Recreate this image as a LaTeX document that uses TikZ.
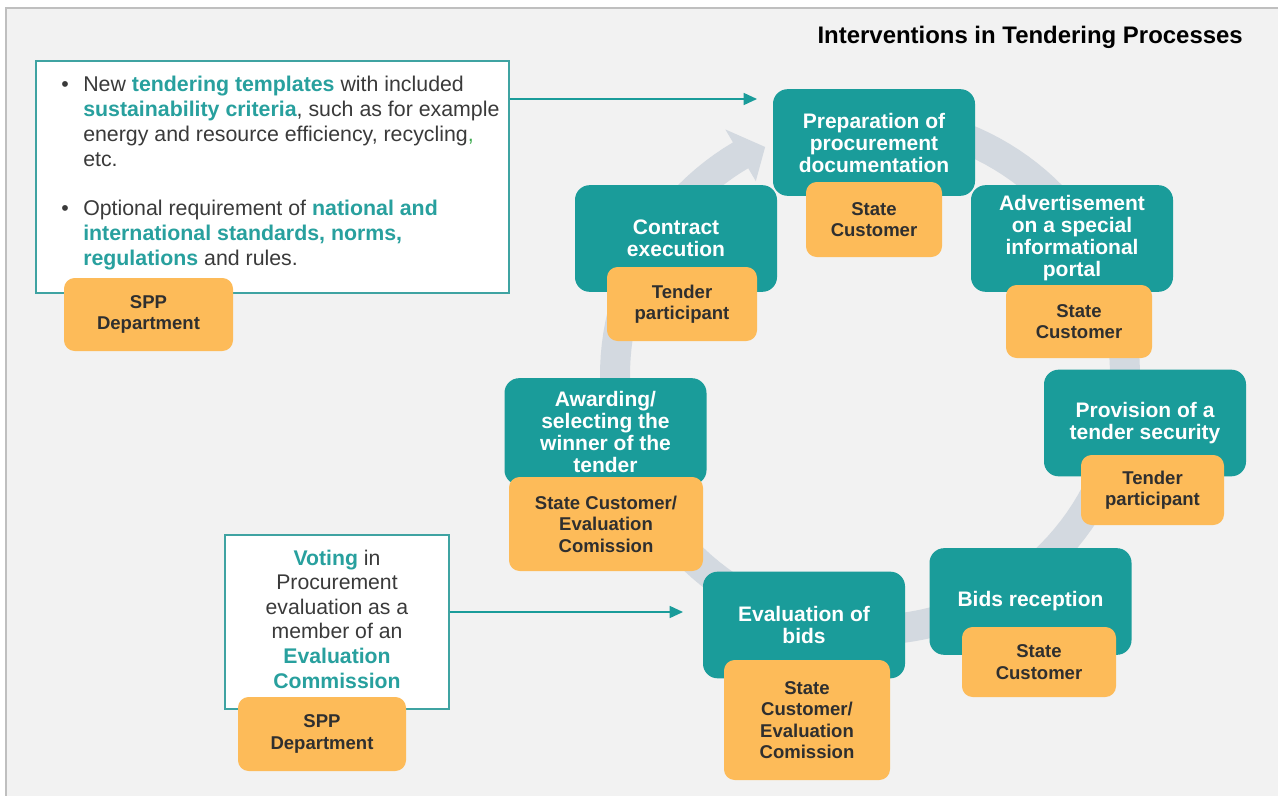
\documentclass[tikz,border=0pt]{standalone}
\usepackage{fontspec}
\setmainfont{Liberation Sans}
\usetikzlibrary{arrows.meta}
\definecolor{tealc}{HTML}{1A9C9A}
\definecolor{hlc}{HTML}{28A09E}
\definecolor{orangec}{HTML}{FDBB59}
\definecolor{darkc}{HTML}{2F2F2F}
\definecolor{bodyc}{HTML}{3A3A3A}
\definecolor{ringc}{HTML}{D3D9E0}
\definecolor{panelc}{HTML}{F2F2F2}
\definecolor{edgec}{HTML}{BFBFBF}
\definecolor{framec}{HTML}{3FA3A2}
\definecolor{commagreen}{HTML}{3DAA4F}
\newcommand{\tealhl}[1]{\textbf{\color{hlc}#1}}
\tikzset{
  tealbox/.style={fill=tealc, rounded corners=11pt, text=white, inner sep=0pt,
    font=\bfseries\fontsize{15.75}{16.5}\selectfont, align=center,
    minimum width=151.5pt, minimum height=80pt},
  orangebox/.style={fill=orangec, rounded corners=8pt, text=darkc, inner sep=0pt,
    font=\bfseries\fontsize{13.9}{16.1}\selectfont, align=center},
  whitebox/.style={fill=white, draw=framec, line width=1.1pt, inner sep=0pt},
  conn/.style={draw=tealc, line width=1.1pt, -{Triangle[length=10pt,width=9pt]}}
}
\begin{document}
\begin{tikzpicture}[x=0.75pt,y=-0.75pt]
\useasboundingbox (0,0) rectangle (1278,796);
\fill[white] (0,0) rectangle (1278,796);
\fill[panelc] (6,8) rectangle (1278,796);
\draw[edgec, line width=1.6pt] (6,796) -- (6,8) -- (1278,8);

% title
\node[anchor=east, inner sep=0pt, font=\bfseries\fontsize{17.95}{20}\selectfont] (title) at (1243,37) {Interventions in Tendering Processes};

% circular arrow
\fill[ringc] plot[domain=-95:239.5, samples=140] ({870+270*cos(\x)},{375+270*sin(\x)})
  -- ({870+285*cos(239.5)},{375+285*sin(239.5)})
  -- ({870+251*cos(245.3)},{375+251*sin(245.3)})
  -- ({870+225*cos(239.5)},{375+225*sin(239.5)})
  -- plot[domain=239.5:-95, samples=140] ({870+240*cos(\x)},{375+240*sin(\x)}) -- cycle;

% left text box
\node[whitebox, minimum width=354.75pt, minimum height=174pt] (box1) at (272.5,177) {};
\node[anchor=base west, inner sep=0pt, text=bodyc, font=\fontsize{16}{18.75}\selectfont] (box1txt) at (61,91) {%
\begin{tabular}[t]{@{}p{16.5pt}@{}l@{}}
\textbullet & New \tealhl{tendering templates} with included\\
 & \tealhl{sustainability criteria}, such as for example\\
 & energy and resource efficiency, recycling{\color{commagreen},}\\
 & etc.\\[18pt]
\textbullet & Optional requirement of \tealhl{national and}\\
 & \tealhl{international standards, norms,}\\
 & \tealhl{regulations} and rules.
\end{tabular}};
\node[orangebox, minimum width=126.75pt, minimum height=54.75pt] (spp1) at (148.5,314.5) {SPP\\Department};

\coordinate (a1tip) at (757,99);
\draw[conn] (box1.east |- a1tip) -- (a1tip);

% voting box
\node[whitebox, minimum width=168pt, minimum height=130.5pt] (vote) at (337,622) {};
\node[inner sep=0pt, text=bodyc, align=center, font=\fontsize{15.9}{18.45}\selectfont] (votetxt) at (337,619)
  {\tealhl{Voting} in\\Procurement\\evaluation as a\\member of an\\\tealhl{Evaluation}\\\tealhl{Commission}};
\node[orangebox, minimum width=126pt, minimum height=55.5pt] (spp2) at (322,734) {SPP\\Department};
\coordinate (a2tip) at (683,612);
\draw[conn] (vote.east |- a2tip) -- (a2tip);

% process steps
\node[tealbox] (prep) at (874,142.5) {Preparation of\\procurement\\documentation};
\node[orangebox, minimum width=102pt, minimum height=56.25pt] (prepw) at (874,219.5) {State\\Customer};

\node[tealbox] (adv) at (1072,238.5) {Advertisement\\on a special\\informational\\portal};
\node[orangebox, minimum width=109.5pt, minimum height=54.75pt] (advw) at (1079,321.5) {State\\Customer};

\node[tealbox] (prov) at (1145,423) {Provision of a\\tender security};
\node[orangebox, minimum width=107.25pt, minimum height=52.5pt] (provw) at (1152.5,490) {Tender\\participant};

\node[tealbox] (bids) at (1030.5,601.5) {Bids reception};
\node[orangebox, minimum width=115.5pt, minimum height=52.5pt] (bidsw) at (1039,662) {State\\Customer};

\node[tealbox] (eval) at (804,625) {Evaluation of\\bids};
\node[orangebox, minimum width=124.5pt, minimum height=90pt] (evalw) at (807,720) {State\\Customer/\\Evaluation\\Comission};

\node[tealbox] (award) at (605.5,431.5) {Awarding/\\selecting the\\winner of the\\tender};
\node[orangebox, minimum width=145.5pt, minimum height=70.5pt] (awardw) at (606,524) {State Customer/\\Evaluation\\Comission};

\node[tealbox] (contract) at (676,238.5) {Contract\\execution};
\node[orangebox, minimum width=112.5pt, minimum height=55.5pt] (contractw) at (682,304) {Tender\\participant};
\end{tikzpicture}
\end{document}
